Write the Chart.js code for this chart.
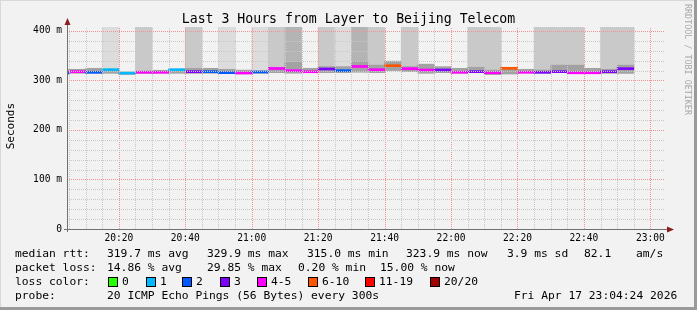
<!DOCTYPE html>
<html>
<head>
<meta charset="utf-8">
<script src="https://cdn.jsdelivr.net/npm/chart.js@4.4.1/dist/chart.umd.min.js"></script>
<style>
  html, body { margin: 0; padding: 0; background: #f2f2f2; }
  #wrap { position: relative; width: 697px; height: 310px; overflow: hidden; font-family: "DejaVu Sans Mono", monospace; color: #000; }
  #wrap canvas { position: absolute; left: 0; top: 0; }
  .t { position: absolute; white-space: pre; font-size: 11.3px; line-height: 12px; }
  .box { position: absolute; width: 8px; height: 8px; border: 1px solid #000; }
  #title { position: absolute; left: 0; width: 697px; top: 11px; text-align: center; font-size: 13.2px; line-height: 16px; white-space: pre; }
  #ytitle { position: absolute; left: 5px; top: 103px; font-size: 11px; line-height: 12px; writing-mode: vertical-rl; transform: rotate(180deg); }
  #mark { position: absolute; left: 683px; top: 4px; font-size: 8.4px; line-height: 10px; color: #a8a8a8; writing-mode: vertical-rl; white-space: pre; }
  .edge { position: absolute; }
</style>
</head>
<body>
<div id="wrap">
  <canvas id="chart" width="697" height="310"></canvas>
  <div id="title">Last 3 Hours from Layer to Beijing Telecom</div>
  <div id="ytitle">Seconds</div>
  <div id="mark">RRDTOOL / TOBI OETIKER</div>
  <div id="legend"></div>
  <div class="edge" style="left:0;top:0;width:697px;height:1px;background:#d8d8d8"></div>
  <div class="edge" style="left:0;top:0;width:1px;height:310px;background:#d8d8d8"></div>
  <div class="edge" style="left:0;top:307px;width:697px;height:3px;background:#9a9a9a"></div>
  <div class="edge" style="left:694px;top:0;width:3px;height:310px;background:#9a9a9a"></div>
</div>
<script>
// 5 minute steps, labelled by the end of each step
const slotEnd = ["20:05","20:10","20:15","20:20","20:25","20:30","20:35","20:40","20:45","20:50","20:55",
  "21:00","21:05","21:10","21:15","21:20","21:25","21:30","21:35","21:40","21:45","21:50","21:55",
  "22:00","22:05","22:10","22:15","22:20","22:25","22:30","22:35","22:40","22:45","22:50","22:55"];
const medianRtt = [315.5, 317.8, 316.6, 321.8, 315.0, 316.6, 316.6, 321.8, 317.8, 317.8, 315.8,
  315.2, 317.2, 324.2, 319.8, 317.6, 323.2, 319.8, 328.3, 321.8, 329.9, 323.8, 321.2,
  321.2, 316.6, 317.8, 315.5, 324.6, 316.6, 316.6, 317.8, 315.5, 315.5, 317.8, 323.9];
const lostPings = [2, 4, 2, 1, 1, 4, 4, 1, 3, 2, 2, 4, 2, 4, 5, 4, 3, 2, 5, 4, 6, 4, 4, 3, 4, 3, 4, 6, 4, 3, 3, 4, 4, 3, 3];
const smokeTop = [322, 322.6, 324.6, 323, 317, 319, 320.6, 323, 324.6, 324.6, 322.6,
  321, 319, 326.7, 337, 324.6, 328, 328, 338, 331, 339, 328, 333,
  328, 324.6, 326.7, 321, 326.7, 322.6, 321, 331, 331, 324.6, 322.6, 331];
const smokeBottom = [312.5, 314.5, 314.5, 314.5, 312, 314.5, 314.5, 314.5, 314.5, 314.5, 314.5,
  313, 314.5, 315.8, 315, 315.8, 315.8, 315.8, 317, 315.8, 320, 317.8, 314.5,
  315.8, 314.5, 315.8, 312, 313, 315, 314.5, 316.6, 315, 314.5, 314.5, 314.5];
// 0 = none, 1 light, 2 medium, 3 dark full height smoke
const highSmoke = [0, 0, 0, 1, 0, 2, 0, 0, 2, 0, 1, 0, 1, 2, 3, 0, 2, 1, 3, 2, 0, 2, 0, 0, 0, 2, 2, 0, 0, 2, 2, 2, 0, 2, 2];

const yLabelValues = [0, 100, 200, 300, 400];
const yLabelText = ["0", "100 m", "200 m", "300 m", "400 m"];
const xLabelTimes = ["20:20", "20:40", "21:00", "21:20", "21:40", "22:00", "22:20", "22:40", "23:00"];
const viewStart = "20:04:24", viewEnd = "23:04:24";

const lossNames = ["0", "1", "2", "3", "4-5", "6-10", "11-19", "20/20"];
const lossColors = ["#26ff00", "#00b8ff", "#0059ff", "#7e00ff", "#ff00ff", "#ff5500", "#ff0000", "#a10000"];
const shadeColors = [null, "#dcdcdc", "#c9c9c9", "#b4b4b4"];

function toMin(s) {
  const p = s.split(":").map(Number);
  return p[0] * 60 + p[1] + (p[2] || 0) / 60;
}
function lossBucket(n) {
  if (n <= 3) return n;
  if (n <= 5) return 4;
  if (n <= 10) return 5;
  if (n <= 19) return 6;
  return 7;
}
function hhmm(v) {
  const h = Math.floor(v / 60), m = Math.round(v % 60);
  return String(h).padStart(2, "0") + ":" + String(m).padStart(2, "0");
}

const centers = slotEnd.map(t => toMin(t) - 2.5);
const xMin = toMin(viewStart), xMax = toMin(viewEnd);

const medianData = centers.map((x, i) => ({ x: x, y: [medianRtt[i] - 2, medianRtt[i] + 2] }));
const smokeData = centers.map((x, i) => ({ x: x, y: [smokeBottom[i], smokeTop[i]] }));
const highData = centers.map((x, i) => ({ x: x, y: highSmoke[i] ? [smokeBottom[i], 408] : null }));

const majorGrid = "#f29494";
const minorGrid = "#c8c8c8";

// rrdtool style dotted grid, drawn on top of the smoke
const gridPlugin = {
  id: "rrdGrid",
  afterDatasetsDraw(chart) {
    const ctx = chart.ctx, a = chart.chartArea;
    const xs = chart.scales.x, ys = chart.scales.y;
    ctx.save();
    ctx.lineWidth = 1;
    ctx.setLineDash([1, 1]);
    xs.ticks.forEach(t => {
      const px = Math.round(xs.getPixelForValue(t.value)) + 0.5;
      ctx.strokeStyle = xLabelTimes.indexOf(hhmm(t.value)) >= 0 ? majorGrid : minorGrid;
      ctx.beginPath();
      ctx.moveTo(px, a.bottom);
      ctx.lineTo(px, a.top);
      ctx.stroke();
    });
    ys.ticks.forEach(t => {
      const py = Math.round(ys.getPixelForValue(t.value)) + 0.5;
      ctx.strokeStyle = yLabelValues.indexOf(t.value) >= 0 ? majorGrid : minorGrid;
      ctx.beginPath();
      ctx.moveTo(a.left, py);
      ctx.lineTo(a.right, py);
      ctx.stroke();
    });
    ctx.restore();
  },
  afterDraw(chart) {
    const ctx = chart.ctx, a = chart.chartArea;
    ctx.save();
    ctx.strokeStyle = "#707070";
    ctx.lineWidth = 1;
    ctx.beginPath();
    ctx.moveTo(a.left + 0.5, a.bottom + 3);
    ctx.lineTo(a.left + 0.5, a.top - 4);
    ctx.moveTo(a.left - 3, a.bottom + 0.5);
    ctx.lineTo(a.right + 4, a.bottom + 0.5);
    ctx.stroke();
    ctx.fillStyle = "#8b1c1c";
    ctx.beginPath();
    ctx.moveTo(a.left + 0.5, a.top - 9);
    ctx.lineTo(a.left + 3.5, a.top - 2);
    ctx.lineTo(a.left - 2.5, a.top - 2);
    ctx.closePath();
    ctx.fill();
    ctx.beginPath();
    ctx.moveTo(a.right + 9, a.bottom + 0.5);
    ctx.lineTo(a.right + 2, a.bottom - 2.5);
    ctx.lineTo(a.right + 2, a.bottom + 3.5);
    ctx.closePath();
    ctx.fill();
    ctx.restore();
  }
};

Chart.defaults.font.family = "DejaVu Sans Mono";
Chart.defaults.color = "#000";

new Chart("chart", {
  type: "bar",
  data: {
    datasets: [
      { data: medianData, backgroundColor: lostPings.map(n => lossColors[lossBucket(n)]), order: 0 },
      { data: smokeData, backgroundColor: "#a2a2a2", order: 1 },
      { data: highData, backgroundColor: highSmoke.map(l => shadeColors[l] || "#ffffff"), order: 2 }
    ]
  },
  plugins: [gridPlugin],
  options: {
    responsive: false,
    animation: false,
    devicePixelRatio: 1,
    layout: { padding: { top: 27, right: 32, left: 0, bottom: 0 } },
    datasets: { bar: { grouped: false, barPercentage: 1, categoryPercentage: 1, borderWidth: 0, borderSkipped: false } },
    plugins: { legend: { display: false }, tooltip: { enabled: false }, title: { display: false } },
    scales: {
      x: {
        type: "linear",
        min: xMin,
        max: xMax,
        offset: false,
        afterFit: s => { s.height = 81; },
        afterBuildTicks: s => {
          const t = [];
          for (let v = Math.ceil(xMin / 5) * 5; v <= xMax; v += 5) t.push({ value: v });
          s.ticks = t;
        },
        grid: { display: false, drawTicks: false },
        border: { display: false },
        ticks: {
          autoSkip: false,
          maxRotation: 0,
          padding: 4,
          font: { size: 9.6 },
          callback: v => (xLabelTimes.indexOf(hhmm(v)) >= 0 ? hhmm(v) : "")
        }
      },
      y: {
        type: "linear",
        min: 0,
        max: 408,
        afterFit: s => { s.width = 67; },
        afterBuildTicks: s => {
          const t = [];
          for (let v = 0; v <= 400; v += 20) t.push({ value: v });
          s.ticks = t;
        },
        grid: { display: false, drawTicks: false },
        border: { display: false },
        ticks: {
          autoSkip: false,
          padding: 5,
          font: { size: 9.6 },
          callback: v => { const i = yLabelValues.indexOf(v); return i >= 0 ? yLabelText[i] : ""; }
        }
      }
    }
  }
});

const legend = document.getElementById("legend");
function text(x, y, s) {
  const d = document.createElement("div");
  d.className = "t";
  d.style.left = x + "px";
  d.style.top = (y - 6) + "px";
  d.textContent = s;
  legend.appendChild(d);
}

const rttStats = ["319.7 ms avg", "329.9 ms max", "315.0 ms min", "323.9 ms now", "3.9 ms sd", "82.1", "am/s"];
const rttX = [107, 207, 307, 406, 507, 584, 636];
const lossStats = ["14.86 % avg", "29.85 % max", "0.20 % min", "15.00 % now"];
const lossX = [107, 207, 298, 380];
const boxX = [108, 146, 182, 220, 257, 308, 365, 430];

text(15, 254, "median rtt:");
rttStats.forEach((s, i) => text(rttX[i], 254, s));
text(15, 268, "packet loss:");
lossStats.forEach((s, i) => text(lossX[i], 268, s));
text(15, 282, "loss color:");
lossNames.forEach((s, i) => {
  const b = document.createElement("div");
  b.className = "box";
  b.style.left = boxX[i] + "px";
  b.style.top = "277px";
  b.style.background = lossColors[i];
  legend.appendChild(b);
  text(boxX[i] + 14, 282, s);
});
text(15, 296, "probe:");
text(107, 296, "20 ICMP Echo Pings (56 Bytes) every 300s");
text(514, 296, "Fri Apr 17 23:04:24 2026");
</script>
</body>
</html>
